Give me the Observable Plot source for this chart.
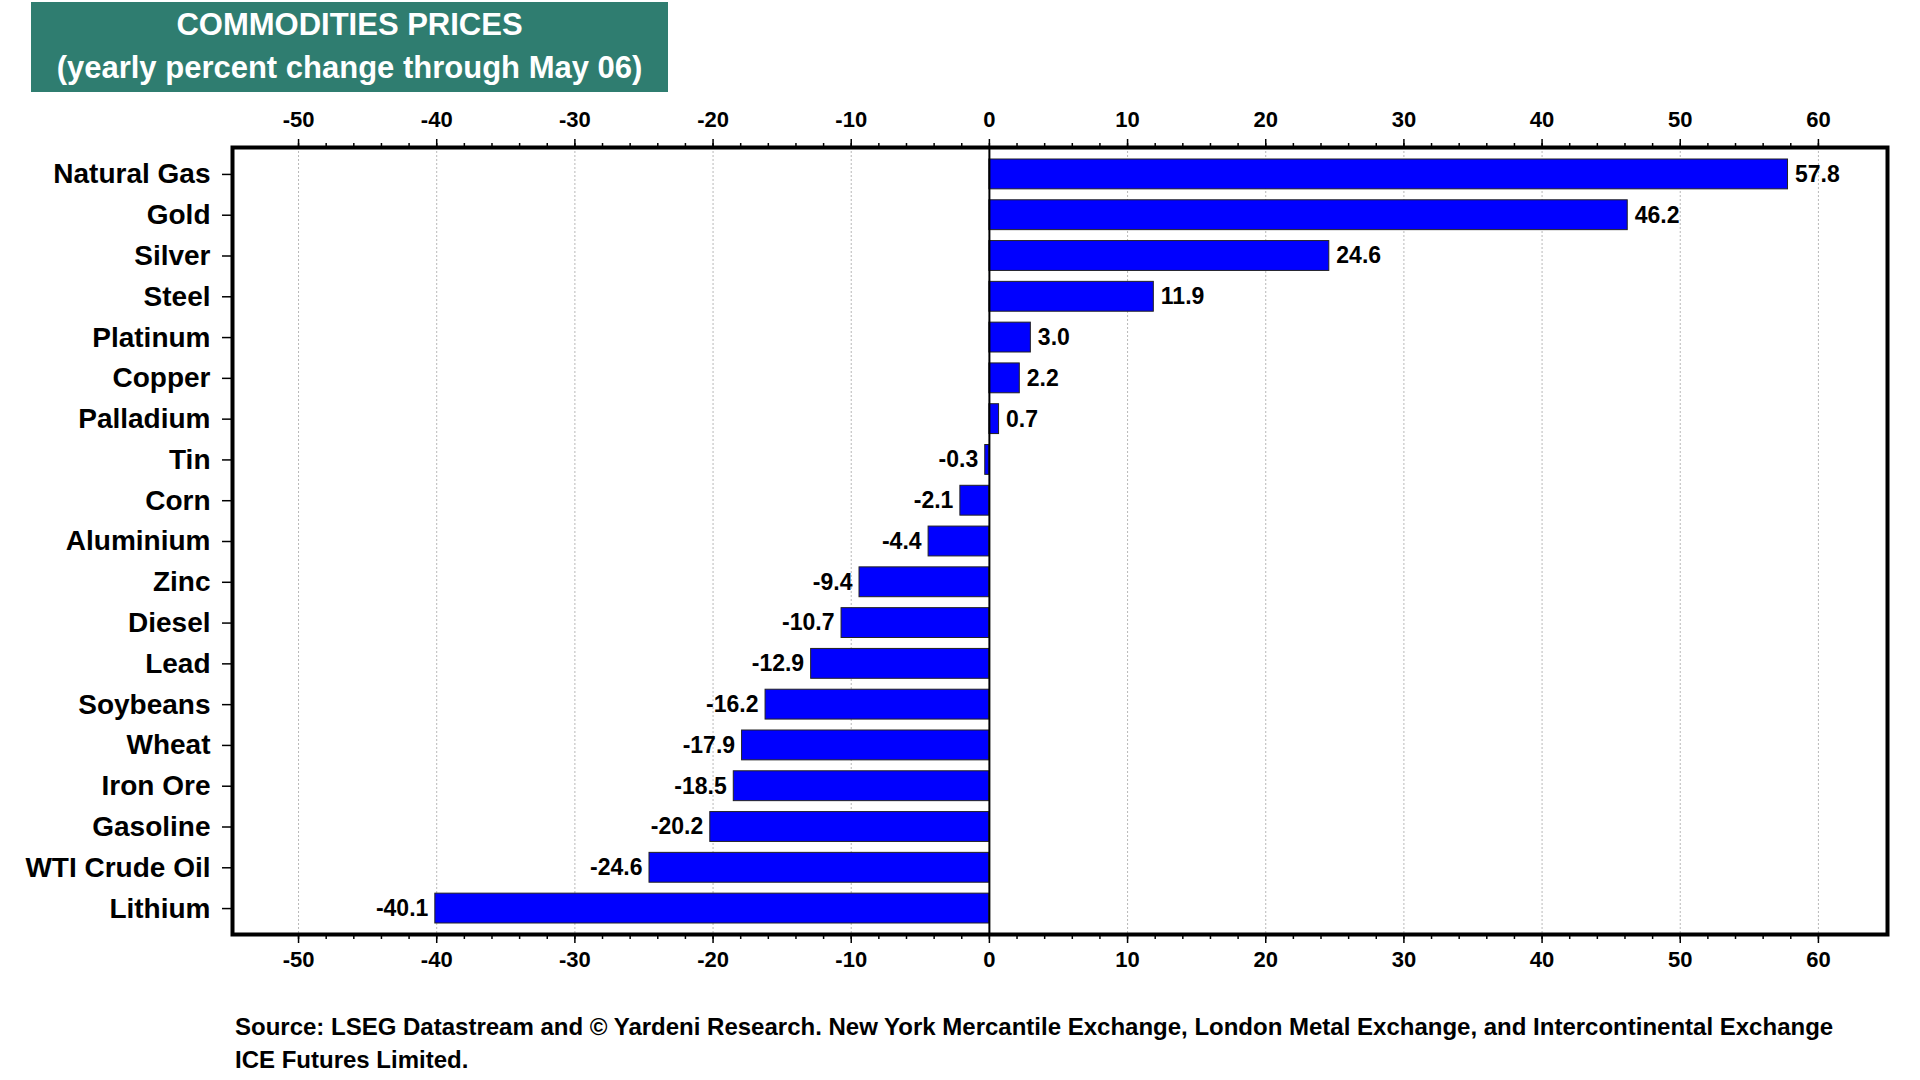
<!DOCTYPE html>
<html>
<head>
<meta charset="utf-8">
<script src="https://cdn.jsdelivr.net/npm/d3@7"></script>
<script src="https://cdn.jsdelivr.net/npm/@observablehq/plot@0.6"></script>
<style>
  html, body { margin: 0; padding: 0; background: #fff; }
  #page { position: relative; width: 1920px; height: 1080px; overflow: hidden; font-family: "Liberation Sans", Arial, Helvetica, sans-serif; }
  #title { position: absolute; left: 31px; top: 2px; width: 637px; height: 90px; box-sizing: border-box; padding-top: 1px;
           background: #2f7d70; color: #fff; font-weight: bold; font-size: 31px; line-height: 43px; text-align: center; }
  #chart { position: absolute; left: 0; top: 92px; }
  #source { position: absolute; left: 235px; top: 1010px; font-weight: bold; font-size: 24px; line-height: 33px; color: #000; }
</style>
</head>
<body>
<div id="page">
  <div id="title">COMMODITIES PRICES<br>(yearly percent change through May 06)</div>
  <div id="chart"></div>
  <div id="source">Source: LSEG Datastream and © Yardeni Research. New York Mercantile Exchange, London Metal Exchange, and Intercontinental Exchange<br>ICE Futures Limited.</div>
</div>
<script>
const commodities = ["Natural Gas", "Gold", "Silver", "Steel", "Platinum", "Copper", "Palladium", "Tin", "Corn", "Aluminium", "Zinc", "Diesel", "Lead", "Soybeans", "Wheat", "Iron Ore", "Gasoline", "WTI Crude Oil", "Lithium"];
const changes = [57.8, 46.2, 24.6, 11.9, 3.0, 2.2, 0.7, -0.3, -2.1, -4.4, -9.4, -10.7, -12.9, -16.2, -17.9, -18.5, -20.2, -24.6, -40.1];
const majorTicks = [-50, -40, -30, -20, -10, 0, 10, 20, 30, 40, 50, 60];
const minorTicks = [-50, -48, -46, -44, -42, -40, -38, -36, -34, -32, -30, -28, -26, -24, -22, -20, -18, -16, -14, -12, -10, -8, -6, -4, -2, 0, 2, 4, 6, 8, 10, 12, 14, 16, 18, 20, 22, 24, 26, 28, 30, 32, 34, 36, 38, 40, 42, 44, 46, 48, 50, 52, 54, 56, 58, 60];

const data = commodities.map((name, i) => ({name, value: changes[i]}));
const positives = data.filter(d => d.value >= 0);
const negatives = data.filter(d => d.value < 0);

const tickFont = {fontSize: 22, fontWeight: "bold"};
const fmt = d => String(d);

const chart = Plot.plot({
  width: 1920,
  height: 890,
  marginLeft: 232,
  marginRight: 33,
  marginTop: 55,
  marginBottom: 48,
  style: {fontFamily: '"Liberation Sans", Arial, Helvetica, sans-serif', color: "#000", background: "transparent"},
  x: {domain: [-54.78, 65]},
  y: {domain: commodities, range: [67, 831], paddingInner: 0.268, paddingOuter: 0, round: false},
  marks: [
    Plot.gridX(majorTicks, {stroke: "#b8b8b8", strokeOpacity: 1, strokeDasharray: "2,2", strokeWidth: 1}),
    Plot.barX(data, {x: "value", y: "name", fill: "#0000ff", stroke: "#222", strokeWidth: 1}),
    Plot.ruleX([0], {stroke: "#000", strokeWidth: 2}),
    Plot.text(positives, {
      x: "value", y: "name", text: d => d.value.toFixed(1),
      dx: 7, textAnchor: "start", lineAnchor: "middle",
      fontSize: 23, fontWeight: "bold", fill: "#000"
    }),
    Plot.text(negatives, {
      x: "value", y: "name", text: d => d.value.toFixed(1),
      dx: -7, textAnchor: "end", lineAnchor: "middle",
      fontSize: 23, fontWeight: "bold", fill: "#000"
    }),
    Plot.axisX({anchor: "top", ticks: minorTicks, tickSize: 5, tickFormat: () => "", strokeWidth: 1.5, label: null}),
    Plot.axisX({anchor: "bottom", ticks: minorTicks, tickSize: 5, tickFormat: () => "", strokeWidth: 1.5, label: null}),
    Plot.axisX({anchor: "top", ticks: majorTicks, tickSize: 9, tickPadding: 12, tickFormat: fmt, strokeWidth: 1.5, label: null, ...tickFont}),
    Plot.axisX({anchor: "bottom", ticks: majorTicks, tickSize: 9, tickPadding: 8, tickFormat: fmt, strokeWidth: 1.5, label: null, ...tickFont}),
    Plot.axisY({anchor: "left", tickSize: 10, tickPadding: 12, strokeWidth: 1.5, label: null, fontSize: 28, fontWeight: "bold"}),
    Plot.frame({stroke: "#000", strokeWidth: 4})
  ]
});
document.getElementById("chart").appendChild(chart);
</script>
</body>
</html>
